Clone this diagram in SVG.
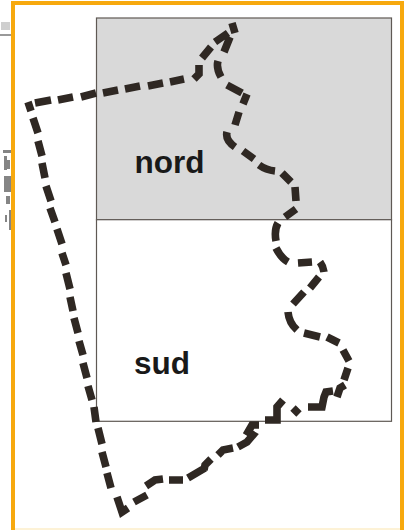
<svg xmlns="http://www.w3.org/2000/svg" width="405" height="530" viewBox="0 0 405 530">
<style>
.zone{stroke:#5f5954;stroke-width:1.2}
.label{font-family:"Liberation Sans",Arial,sans-serif;font-weight:700;font-size:31.5px;fill:#191919}
#boundary path{fill:none;stroke:#2f2823;stroke-width:7.6;stroke-linejoin:miter}
</style>
<rect width="405" height="530" fill="#fff"/>
<path d="M0 35h11" stroke="#777" stroke-width="1.5" fill="none"/>
<path d="M1 22h9v8h-9z" fill="#bbb" opacity=".7"/>
<path d="M3 150h8v3h-8zM4 156h3v14h-3zM7 160h3v9h-3zM4 176h7v16h-7zM6 196h4v8h-4zM9 210h2v20h-2zM5 215h2v7h-2z" fill="#333" opacity=".6"/>
<path d="M13 530V3H402V530" fill="none" stroke="#f7a90e" stroke-width="4"/>
<path d="M15 529H400" stroke="#fdeec8" stroke-width="1.5" fill="none"/>
<g id="nord"><rect class="zone" x="96.5" y="18" width="295" height="201.7" fill="#d9d9d9"/><text class="label" x="134.500" y="172.500">nord</text></g>
<g id="sud"><rect class="zone" x="96.5" y="219.7" width="295" height="201.6" fill="#fff"/><text class="label" x="134" y="373.500">sud</text></g>
<g id="boundary">
<path d="M28 102l3 9M35 103L51 100M58 100L73 97M81 97L96 93M103 93L118 90M125 89L140 86M148 86L163 83M170 82L184 79M194 79L199 74V65"/>
<path d="M202 58L211 47M215 42L228 33M232 23L235 33M230 37L224 52M218 61Q216 68 221 77M227 85L242 93M247 94L243 104M239 112L235 125M227 132Q225 140 235 147M243 151L254 159M259 165Q266 170 275 171M282 173L291 182M295 187L296 201M296 209L285 217M278 223Q274 230 276 241M276 248Q281 258 288 262M298 263L312 262M320 262Q323 266 324 272M319 277L310 288M304 292L293 304"/>
<path d="M288 312Q289 323 297 330M304 333L320 337M327 337L339 343M343 350L349 361M348 368L344 380M345 385L340 388L337 397M333 391L326 392L324 397L322 407H308M293 408L299 414M283 400L277 407V420H265M259 425H252L248 432L253 435L247 442L238 447M233 448L223 450L218 455M211 459L205 465L204 470M205 468L188 478M183 480H169M163 479L155 480L146 486M147 495L134 502M117 497L122 512L128 508"/>
<path d="M111 488L107 473M106 467L102 452M102 444L98 428M96 422L94 407M92 400L88 386M87 378L83 363M83 355L79 341M78 333L74 318M73 311L70 297M70 289L66 273M66 265L62 253M62 244L57 229M55 222L50 208M51 201L46 186M45 178L42 163M42 156L38 141M38 133L33 118"/>
</g>
</svg>
